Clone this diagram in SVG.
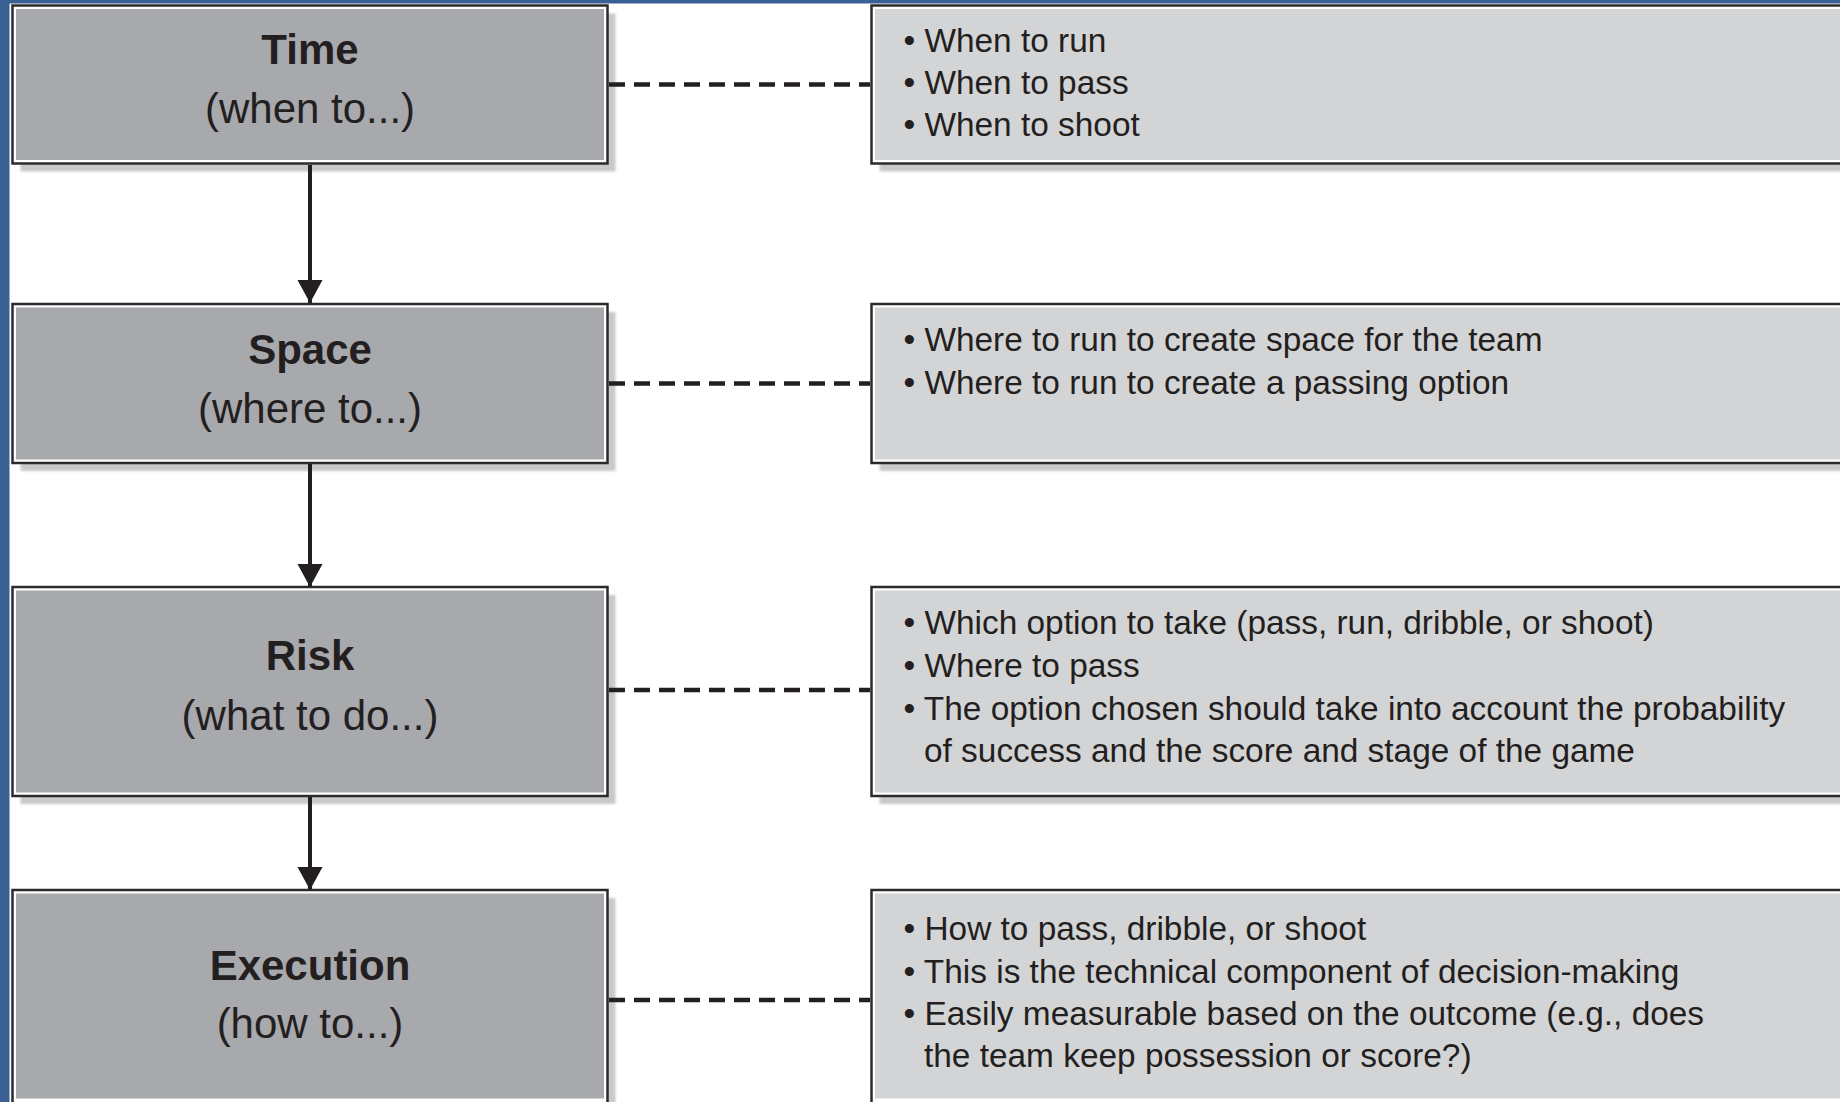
<svg xmlns="http://www.w3.org/2000/svg" width="1840" height="1102" viewBox="0 0 1840 1102">
  <style>
    .outer { fill: #ffffff; stroke: #2b2b2b; stroke-width: 2.5; }
    .shadow { fill: #c9c9cb; }
    .lfill { fill: #a8a9ac; }
    .rfill { fill: #d3d4d6; }
    .title { font-family: "Liberation Sans", Arial, sans-serif; font-size: 42px; font-weight: bold; fill: #231f20; text-anchor: middle; }
    .sub { font-family: "Liberation Sans", Arial, sans-serif; font-size: 42px; fill: #231f20; text-anchor: middle; }
    .item { font-family: "Liberation Sans", Arial, sans-serif; font-size: 33.4px; fill: #231f20; }
    .dash { stroke: #231f20; stroke-width: 4.5; stroke-dasharray: 16 9; fill: none; }
    .flow { stroke: #231f20; stroke-width: 4; fill: none; marker-end: url(#arrow); }
  </style>
  <defs>
    <marker id="arrow" markerUnits="userSpaceOnUse" markerWidth="26" markerHeight="26" refX="23" refY="12.5" orient="auto">
      <path d="M0,0 L23,12.5 L0,25 Z" fill="#231f20"/>
    </marker>
    <filter id="soft" x="-5%" y="-5%" width="110%" height="110%">
      <feGaussianBlur stdDeviation="1.2"/>
    </filter>
  </defs>

  <rect x="0" y="0" width="1840" height="1102" fill="#ffffff"/>
  <!-- blue frame edges -->
  <rect x="0" y="0" width="1840" height="3.5" fill="#3a5f93"/>
  <rect x="0" y="0" width="9.5" height="1102" fill="#3a5f93"/>

  <!-- Time -->
  <g id="time">
    <rect class="shadow" filter="url(#soft)" x="20.5" y="13.5" width="595" height="158"/>
    <rect class="outer" x="12.5" y="5.5" width="595" height="158"/>
    <rect class="lfill" x="16" y="9" width="588" height="151"/>
    <text class="title" x="310" y="64">Time</text>
    <text class="sub" x="310" y="123">(when to...)</text>
  </g>
  <g id="time-details">
    <rect class="shadow" filter="url(#soft)" x="879.5" y="13.5" width="980" height="158"/>
    <rect class="outer" x="871.5" y="5.5" width="980" height="158"/>
    <rect class="rfill" x="875" y="9" width="980" height="151"/>
    <text class="item" x="903.5" y="52">• When to run</text>
    <text class="item" x="903.5" y="94">• When to pass</text>
    <text class="item" x="903.5" y="136">• When to shoot</text>
  </g>

  <!-- Space -->
  <g id="space">
    <rect class="shadow" filter="url(#soft)" x="20.5" y="312" width="595" height="159"/>
    <rect class="outer" x="12.5" y="304" width="595" height="159"/>
    <rect class="lfill" x="16" y="307.5" width="588" height="152"/>
    <text class="title" x="310" y="364">Space</text>
    <text class="sub" x="310" y="423">(where to...)</text>
  </g>
  <g id="space-details">
    <rect class="shadow" filter="url(#soft)" x="879.5" y="312" width="980" height="159"/>
    <rect class="outer" x="871.5" y="304" width="980" height="159"/>
    <rect class="rfill" x="875" y="307.5" width="980" height="152"/>
    <text class="item" x="903.5" y="351">• Where to run to create space for the team</text>
    <text class="item" x="903.5" y="394">• Where to run to create a passing option</text>
  </g>

  <!-- Risk -->
  <g id="risk">
    <rect class="shadow" filter="url(#soft)" x="20.5" y="595" width="595" height="209"/>
    <rect class="outer" x="12.5" y="587" width="595" height="209"/>
    <rect class="lfill" x="16" y="590.5" width="588" height="202"/>
    <text class="title" x="310" y="670">Risk</text>
    <text class="sub" x="310" y="730">(what to do...)</text>
  </g>
  <g id="risk-details">
    <rect class="shadow" filter="url(#soft)" x="879.5" y="595" width="980" height="209"/>
    <rect class="outer" x="871.5" y="587" width="980" height="209"/>
    <rect class="rfill" x="875" y="590.5" width="980" height="202"/>
    <text class="item" x="903.5" y="634">• Which option to take (pass, run, dribble, or shoot)</text>
    <text class="item" x="903.5" y="677">• Where to pass</text>
    <text class="item" x="903.5" y="720">• The option chosen should take into account the probability</text>
    <text class="item" x="924" y="762">of success and the score and stage of the game</text>
  </g>

  <!-- Execution -->
  <g id="execution">
    <rect class="shadow" filter="url(#soft)" x="20.5" y="898" width="595" height="220"/>
    <rect class="outer" x="12.5" y="890" width="595" height="216"/>
    <rect class="lfill" x="16" y="893.5" width="588" height="205"/>
    <text class="title" x="310" y="980">Execution</text>
    <text class="sub" x="310" y="1038">(how to...)</text>
  </g>
  <g id="execution-details">
    <rect class="shadow" filter="url(#soft)" x="879.5" y="898" width="980" height="220"/>
    <rect class="outer" x="871.5" y="890" width="980" height="216"/>
    <rect class="rfill" x="875" y="893.5" width="980" height="205"/>
    <text class="item" x="903.5" y="940">• How to pass, dribble, or shoot</text>
    <text class="item" x="903.5" y="983">• This is the technical component of decision-making</text>
    <text class="item" x="903.5" y="1025">• Easily measurable based on the outcome (e.g., does</text>
    <text class="item" x="924" y="1067">the team keep possession or score?)</text>
  </g>

  <!-- connectors -->
  <g id="connectors">
    <line class="flow" x1="310" y1="165" x2="310" y2="303"/>
    <line class="flow" x1="310" y1="464" x2="310" y2="587"/>
    <line class="flow" x1="310" y1="797" x2="310" y2="890"/>
    <line class="dash" x1="609" y1="84.5" x2="870" y2="84.5"/>
    <line class="dash" x1="609" y1="383.5" x2="870" y2="383.5"/>
    <line class="dash" x1="609" y1="690" x2="870" y2="690"/>
    <line class="dash" x1="609" y1="1000" x2="870" y2="1000"/>
  </g>
</svg>
